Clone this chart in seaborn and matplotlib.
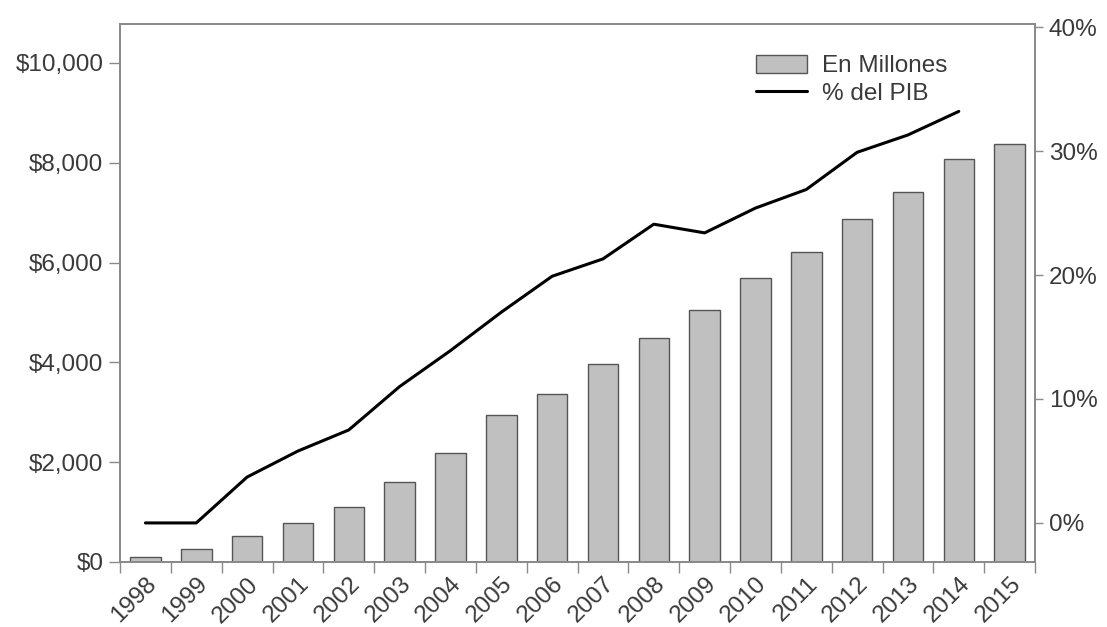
import numpy as np
import pandas as pd
import matplotlib
matplotlib.use("Agg")
import matplotlib.pyplot as plt
from matplotlib.ticker import FixedLocator
import seaborn as sns

years = [1998, 1999, 2000, 2001, 2002, 2003, 2004, 2005, 2006,
         2007, 2008, 2009, 2010, 2011, 2012, 2013, 2014, 2015]
millones = [105, 260, 525, 790, 1100, 1597, 2178, 2952, 3360,
            3968, 4483, 5044, 5695, 6215, 6870, 7410, 8076, 8370]
pct_pib = [0.0, 0.0, 3.7, 5.8, 7.5, 11.0, 13.9, 17.0, 19.9,
           21.3, 24.1, 23.4, 25.4, 26.9, 29.9, 31.3, 33.2]

left_ticks = [0, 2000, 4000, 6000, 8000, 10000]
left_labels = ["$0", "$2,000", "$4,000", "$6,000", "$8,000", "$10,000"]
right_ticks = [0, 10, 20, 30, 40]
right_labels = ["0%", "10%", "20%", "30%", "40%"]

bars = pd.DataFrame({"year": [str(y) for y in years], "valor": millones})
line = pd.DataFrame({"pos": np.arange(len(pct_pib)), "pct": pct_pib})

sns.set_theme(style="white")
plt.rcParams["font.family"] = ["Liberation Sans", "DejaVu Sans"]
text_c = "#3a3a3a"
spine_c = "#8a8a8a"
fs = 17.5

fig = plt.figure(figsize=(11.07, 6.27), dpi=100)
ax = fig.add_axes([0.1084, 0.1037, 0.8266, 0.858])

sns.barplot(data=bars, x="year", y="valor", ax=ax, color="#c0c0c0",
            saturation=1, width=0.6, edgecolor="#555555", linewidth=1.0,
            label="En Millones")
ax.set_ylim(0, 10780)

ax2 = ax.twinx()
sns.lineplot(data=line, x="pos", y="pct", ax=ax2, color="black",
             linewidth=2.2, label="% del PIB", legend=False)
ax2.set_ylim(-3.15, 40.25)
ax.set_xlim(-0.5, len(years) - 0.5)

# y axes
ax.set_yticks(left_ticks)
ax.set_yticklabels(left_labels)
ax2.set_yticks(right_ticks)
ax2.set_yticklabels(right_labels)
for a in (ax, ax2):
    a.set_xlabel("")
    a.set_ylabel("")
    for s in a.spines.values():
        s.set_color(spine_c)
        s.set_linewidth(1.3)
ax.tick_params(axis="y", which="major", direction="out", length=8,
               width=1.0, color=spine_c, labelsize=fs, labelcolor=text_c,
               left=True, pad=4)
ax2.tick_params(axis="y", which="major", direction="out", length=6,
                width=1.0, color=spine_c, labelsize=fs, labelcolor=text_c,
                right=True, pad=4)

# x axis: labels at bar centres, tick marks between categories
ax.set_xticks(np.arange(len(years)))
ax.set_xticklabels([str(y) for y in years], rotation=45, ha="right",
                   rotation_mode="anchor")
ax.xaxis.set_minor_locator(FixedLocator(np.arange(len(years) + 1) - 0.5))
ax.tick_params(axis="x", which="major", length=0, labelsize=fs,
               labelcolor=text_c, pad=8)
ax.tick_params(axis="x", which="minor", direction="out", length=8,
               width=1.0, color=spine_c, bottom=True)
ax2.tick_params(axis="x", which="both", length=0)

# one legend combining both series
h1, l1 = ax.get_legend_handles_labels()
h2, l2 = ax2.get_legend_handles_labels()
if ax.get_legend() is not None:
    ax.get_legend().remove()
leg = ax2.legend(h1 + h2, l1 + l2, loc="upper left",
                 bbox_to_anchor=(0.69, 0.952), frameon=False,
                 fontsize=fs, handlelength=2.1, handleheight=0.8,
                 handletextpad=0.6, labelspacing=0.2, borderpad=0.2,
                 borderaxespad=0)
for t in leg.get_texts():
    t.set_color(text_c)

fig.savefig("out.png", dpi=100)
